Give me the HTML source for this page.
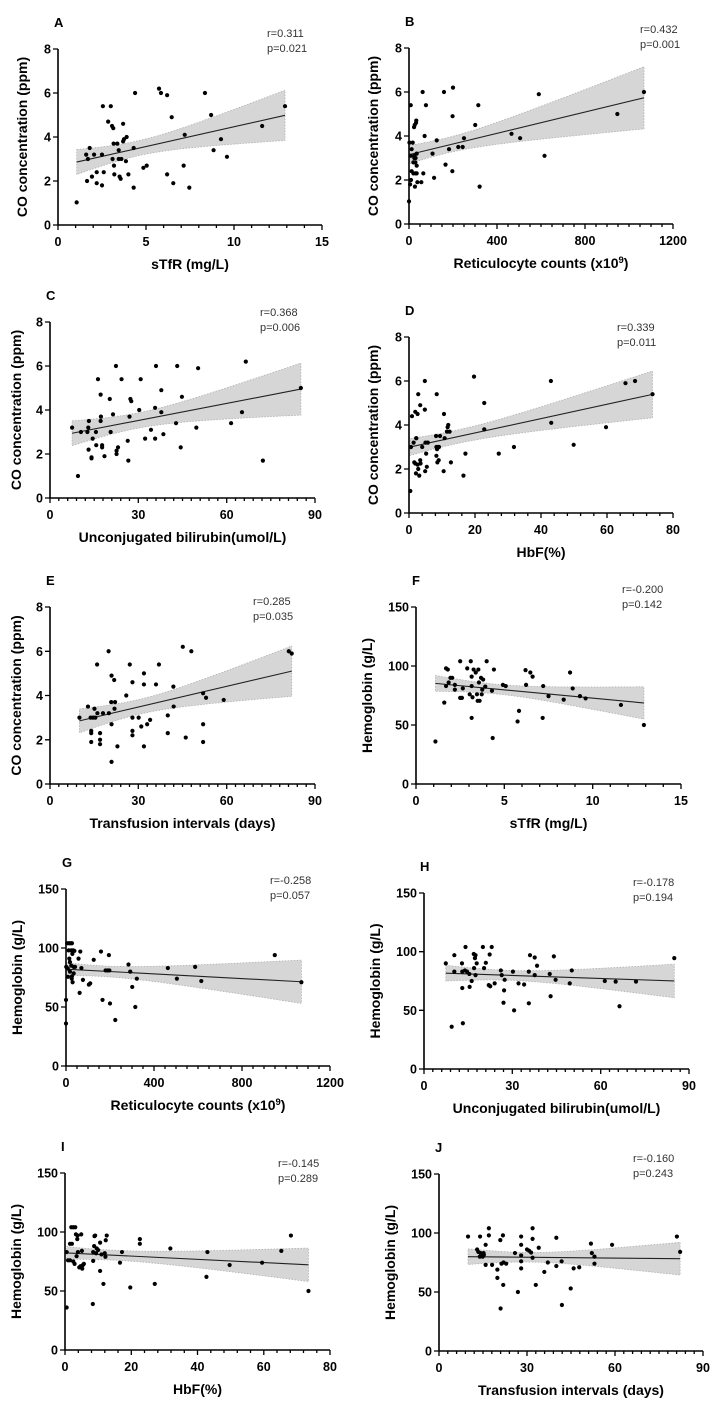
<!DOCTYPE html>
<html><head><meta charset="utf-8"><style>
html,body{margin:0;padding:0;background:#fff;}
svg{display:block;font-family:"Liberation Sans",Arial,sans-serif;}
</style></head><body>
<svg id="fig" width="719" height="1413" viewBox="0 0 719 1413" xmlns="http://www.w3.org/2000/svg"></svg>
<script>
const aX=[1.06,1.6,1.7,1.8,1.65,1.93,2.05,2.2,2.2,2.5,2.5,2.6,2.55,3.0,2.85,3.07,3.14,3.1,3.16,3.18,3.2,3.37,3.45,3.45,3.5,3.56,3.6,3.7,3.7,3.75,3.9,3.86,4.0,4.3,4.3,4.38,4.85,5.04,5.74,5.85,6.2,6.2,6.46,6.55,7.14,7.2,7.46,8.35,8.7,8.84,9.26,9.6,11.6,12.9];
const aY=[1.03,3.2,3.0,3.5,2.0,2.2,3.2,2.4,1.9,3.2,1.8,2.4,5.4,5.4,4.7,4.5,4.4,3.0,3.7,2.7,2.3,3.7,3.4,3.0,2.2,2.1,3.0,4.6,3.8,3.9,4.0,2.9,2.3,3.5,1.7,6.0,2.6,2.7,6.2,6.0,5.9,2.3,4.9,1.9,2.7,4.1,1.7,6.0,5.0,3.4,3.9,3.1,4.5,5.4];
const bX=[0,5,9,8,2,8,12,17,12,20,24,29,20,24,35,30,23,26,32,33,27,30,35,35,38,56,62,65,71,77,107,114,126,159,166,182,197,200,198,224,244,250,301,315,321,466,505,590,616,947,1068];
const bY=[1.03,1.8,2.0,5.4,3.7,3.1,3.4,3.7,2.4,2.3,3.0,2.8,2.8,3.1,3.2,3.0,4.4,4.5,4.6,4.7,1.7,2.3,2.65,2.3,1.9,1.9,6.0,2.3,4.0,5.4,3.2,2.1,3.8,6.0,2.7,3.4,2.4,6.2,4.9,3.5,3.5,3.9,4.5,5.4,1.7,4.1,3.9,5.9,3.1,5.0,6.0];
const cX=[7.5,9.5,10.5,12.7,13,13.2,13.1,14.1,14.1,14.5,15.6,15.7,16.3,17.2,17.2,17.3,17.7,17.7,18.5,20.3,20.6,21.4,22.4,22.6,22.6,23.1,24.3,26.4,26.6,27,27.3,27.6,30.3,30.8,32.3,34.3,35.7,35.7,36,37.8,37.8,38.5,42.8,43.2,44.4,44.8,49.7,50.3,61.5,65.2,66.5,72.3,85.2];
const cY=[3.2,1.0,3.0,3.0,3.2,3.5,2.2,1.85,1.8,2.7,3.0,2.4,5.4,4.7,3.5,3.7,2.4,2.3,1.9,4.5,3.0,3.8,6.0,2.15,2.0,2.3,5.4,2.6,1.7,3.7,4.5,4.4,4.0,5.4,2.7,3.1,4.1,2.7,6.0,4.9,3.9,2.9,3.4,6.0,2.3,4.6,3.2,5.9,3.4,3.9,6.2,1.7,5.0];
const dX=[0.4,0.6,0.9,1.4,1.6,1.9,2.1,2.2,1.9,2.2,2.8,2.6,2.6,2.8,3.1,3.4,3.4,3.5,4.0,4.8,4.8,4.9,5.0,5.2,5.4,5.7,8.4,8.2,8.3,8.3,8.5,8.8,8.6,9.0,9.1,9.4,10.6,10.5,10.8,11.5,11.7,11.9,12.3,12.7,16.5,17.1,19.7,22.8,22.8,27.2,31.8,43.0,43.1,49.9,59.7,65.6,68.5,73.8];
const dY=[1.0,3.0,4.4,3.2,2.3,2.25,1.8,3.4,4.6,3.4,5.4,4.5,2.2,2.0,1.7,4.9,2.4,2.25,3.0,4.7,6.0,1.9,3.2,2.7,2.1,3.2,5.4,3.5,3.0,2.6,2.9,3.0,2.3,2.4,3.0,3.5,4.5,1.9,3.4,3.7,3.9,4.0,3.7,2.3,1.7,2.7,6.2,5.0,3.8,2.7,3.0,6.0,4.1,3.1,3.9,5.9,6.0,5.4];
const eX=[10,12.9,13.8,14,14,14,14.6,15.1,15.4,16,16.1,17,17,17,18,19.9,20,20.8,20.9,20.9,20.9,21.8,22.1,21.9,22.9,25.9,27.1,28,28,28,28,30.1,31,31.9,31.9,31.9,33,34,36,37,40,40,41.9,42,45.1,46.1,48,52,52,52,53,59,81.1,82.1];
const eY=[3.0,3.5,3.0,2.4,2.3,1.9,3.0,3.4,3.0,5.4,3.2,2.3,2.0,1.8,3.2,6.0,3.2,3.7,4.9,2.7,1.0,4.7,3.7,3.4,1.7,4.0,5.4,4.6,3.0,2.4,2.2,3.0,2.6,5.0,4.5,1.7,2.7,2.9,4.5,5.4,3.1,2.3,4.4,3.5,6.2,2.1,6.0,4.1,2.7,1.9,3.9,3.8,6.0,5.9];
const fX=[1.1,1.6,1.7,1.8,1.7,1.85,1.95,2.05,2.2,2.2,2.5,2.5,2.6,2.65,2.9,3.1,3.15,3.15,3.15,3.04,3.2,3.26,3.38,3.45,3.49,3.53,3.6,3.56,3.68,3.72,3.75,3.8,3.92,4.0,4.3,4.34,4.41,4.92,5.08,5.75,5.83,6.2,6.23,6.47,6.6,7.17,7.2,7.5,8.36,8.72,8.87,9.28,9.6,11.6,12.9];
const fY=[36,69,98,97,83,86,90,90,84,80,104,73,73,81,98,104,91,83,56,76,73.5,97,94.5,76,70.5,97,70.5,86,90,76,80,88.5,82.5,104,79,39,97,84,83,53,62,96.5,84,94.5,91,56,83,74.5,71.5,94.5,81,74.5,72.5,67,50];
const gX=[0,0,1,5,8,9,12,14,15,18,18,21,24,24,26,27,27,29,30,32,35,35,38,41,57,62,65,70,77,104,110,126,159,166,180,189,197,195,200,224,284,292,301,315,322,463,504,587,615,949,1070];
const gY=[56,36,84,104,82.6,75.6,98,104,91,80,88,104,98,85,74,76,104,95,71,98,78.5,84,97.6,84,91,62,97,83,73,69,70,90,97,56,81,81,81,94,53,39,86,80,67,50,74,83,74,84,72,94,71];
const hX=[7.4,9.4,10.3,10.3,12.9,13,13,13.2,13.9,14.1,14.6,15.4,15.5,16.2,16.9,17,17.3,17.5,17.5,17.9,20,20.4,21,22,22.3,22.5,23,24,26.1,26.4,27,27.2,27.4,30.2,30.6,32.1,34,35.6,35.6,36,37.6,37.6,38.4,42.7,43,44.1,44.7,49.5,50.2,61.4,65.1,66.4,72,85];
const hY=[90,36,97,83,90,83,69,39,84,104,83,81,70,75,98,86,94.5,97,80,90,104,86,90.5,71.5,97.6,70.5,104,73,84,80,56.5,67,76,83,50,73,72,83,56,97,95,80,88,81,62,96,76,73,84,75,74.5,53.5,74.5,94.5];
const iX=[0.5,0.5,0.9,1.5,1.5,2.1,1.9,2.5,3.1,2.5,2.9,3.3,3.5,3.7,3.8,3.9,4.3,4.7,4.9,5.1,5.2,5.4,5.7,8.4,8.5,8.5,8.8,8.9,9.1,9.4,9.6,10,10.6,10.6,11,11.6,12,12.2,12.3,12.6,16.6,17.2,19.7,22.6,22.6,27.1,31.8,42.7,43,49.7,59.5,65.3,68.2,73.5];
const iY=[36,83,76,76,90,90,104,104,104,75,73,98,79.5,94,97,83,70,71,98,84,69,72,73,39,75.5,83,88,96.5,97,82,86,84.7,67,91,81,56,82,79,93,97,74,83,53,94,90,56,86,62,83,72,74,84,97,50];
const jX=[9.9,13,14,13.4,13.9,14.2,14.5,14.9,15.2,15.3,15.9,15.9,17,17,18.1,19.9,19.9,20.9,21,21.3,21.8,21.9,22,22.9,25.9,26.9,28,28,28,28,28,30,30.7,31.4,31.9,31.9,31.9,33,34,35.9,37.1,40,40,41.8,41.9,44.9,45.9,47.8,51.8,52.1,53,53,59,81.1,82.2];
const jY=[97,86,97,84,80,83,81.5,80,83,81.5,90,73,104,98,73,69,62,94,36,74,98,56,75,74,83,50,97,90,81,76,70,86,85,83.5,104,95,79,56,87.5,67,75,96,72,76,39,53,70,71,91,83,80,74,90,97,84];

const coTicks=[0,2,4,6,8];
const hbTicks=[0,50,100,150];
const xt15=[0,5,10,15], xt1200=[0,400,800,1200], xt90=[0,30,60,90], xt80=[0,20,40,60,80];

const NS="http://www.w3.org/2000/svg";
const svg=document.getElementById('fig');
function mk(tag,attrs,parent){const e=document.createElementNS(NS,tag);for(const k in attrs)e.setAttribute(k,attrs[k]);(parent||svg).appendChild(e);return e;}

function panel(cfg){
  const g=mk('g',{});
  
  
  const {ox,top,w,h,xmax,ymax,minor,xs,ys,xticks,yticks}=cfg;
  const bot=top+h;
  const sx=v=>ox+v/xmax*w;
  const sy=v=>bot-v/ymax*h;
  const n=xs.length;let mx=0,my=0;for(let i=0;i<n;i++){mx+=xs[i];my+=ys[i];}mx/=n;my/=n;
  let sxx=0,sxy=0;for(let i=0;i<n;i++){sxx+=(xs[i]-mx)**2;sxy+=(xs[i]-mx)*(ys[i]-my);}
  const b=sxy/sxx,a=my-b*mx;let sse=0;for(let i=0;i<n;i++)sse+=(ys[i]-a-b*xs[i])**2;
  const s=Math.sqrt(sse/(n-2)),t=2.007;
  const x0=Math.min(...xs),x1=Math.max(...xs);
  const up=[],lo=[];
  for(let k=0;k<=40;k++){const x=x0+(x1-x0)*k/40;const yh=a+b*x;const se=t*s*Math.sqrt(1/n+(x-mx)**2/sxx);
    up.push(sx(x).toFixed(1)+','+sy(yh+se).toFixed(1));lo.unshift(sx(x).toFixed(1)+','+sy(yh-se).toFixed(1));}
  const band=mk('polygon',{points:up.concat(lo).join(' '),fill:'#d6d6d6',stroke:'#b0b0b0','stroke-width':'0.8','stroke-dasharray':'1.5,1.5'},g);
  
  
  const ln=mk('line',{x1:sx(x0),y1:sy(a+b*x0),x2:sx(x1),y2:sy(a+b*x1),stroke:'#222','stroke-width':'1.1'},g);
  
  
  for(let i=0;i<n;i++){const c=mk('circle',{cx:sx(xs[i]),cy:sy(ys[i]),r:2.1,fill:'#000'},g);
    
    }
  const ax=mk('path',{d:`M${ox},${top} V${bot} H${ox+w}`,stroke:'#000','stroke-width':'1.6',fill:'none'},g);
  
  
  let d='';
  for(let v=0;v<=xmax+1e-9;v+=minor){const X=sx(v).toFixed(1);const major=xticks.some(tv=>Math.abs(tv-v)<1e-6);d+=`M${X},${bot} v${major?5:3} `;}
  yticks.forEach(v=>{d+=`M${ox},${sy(v).toFixed(1)} h-5 `;});
  mk('path',{d:d,stroke:'#000','stroke-width':'1.3',fill:'none'},g);
  xticks.forEach(v=>{const tx=mk('text',{x:sx(v),y:bot+21,'text-anchor':'middle','font-size':'12.5','font-weight':'bold'},g);tx.textContent=v;
    
    });
  yticks.forEach(v=>{const tx=mk('text',{x:ox-7,y:sy(v)+4.5,'text-anchor':'end','font-size':'12.5','font-weight':'bold'},g);tx.textContent=v;
    
    });
  const xt=mk('text',{x:ox+w/2,y:bot+44,'text-anchor':'middle','font-size':'14','font-weight':'bold'},g);
  
  
  if(cfg.sup){xt.appendChild(document.createTextNode(cfg.xtitle));const ts=mk('tspan',{'font-size':'9.5','dy':'-5'},xt);ts.textContent='9';const t2=mk('tspan',{'dy':'5'},xt);t2.textContent=')';}
  else xt.textContent=cfg.xtitle;
  const yx=ox-cfg.ytOff,yy=top+h/2;
  const yt=mk('text',{x:yx,y:yy,'text-anchor':'middle','font-size':'14','font-weight':'bold',transform:`rotate(-90 ${yx} ${yy})`},g);
  yt.textContent=cfg.ytitle;
  
  
  const lt=mk('text',{x:ox-4,y:top-22,'font-size':'13','font-weight':'bold'},g);lt.textContent=cfg.letter;
  
  
  const r=mk('text',{x:cfg.rx,y:cfg.ry,'font-size':'11',fill:'#333'},g);r.textContent=cfg.r;
  
  
  const p=mk('text',{x:cfg.rx,y:cfg.ry+15,'font-size':'11',fill:'#333'},g);p.textContent=cfg.p;
  
  
}
const CO='CO concentration (ppm)',HB='Hemoglobin (g/L)';
panel({letter:'A',ox:58,top:49,w:264,h:176,xmax:15,minor:1,xticks:xt15,ymax:8,yticks:coTicks,xs:aX,ys:aY,xtitle:'sTfR (mg/L)',ytitle:CO,ytOff:31,rx:267,ry:37,r:'r=0.311',p:'p=0.021'});
panel({letter:'B',ox:409,top:48,w:264,h:176,xmax:1200,minor:50,xticks:xt1200,ymax:8,yticks:coTicks,xs:bX,ys:bY,xtitle:'Reticulocyte counts (x10',sup:true,ytitle:CO,ytOff:31,rx:640,ry:33,r:'r=0.432',p:'p=0.001'});
panel({letter:'C',ox:50,top:322,w:265,h:176,xmax:90,minor:3,xticks:xt90,ymax:8,yticks:coTicks,xs:cX,ys:cY,xtitle:'Unconjugated bilirubin(umol/L)',ytitle:CO,ytOff:29,rx:260,ry:316,r:'r=0.368',p:'p=0.006'});
panel({letter:'D',ox:409,top:337,w:264,h:176,xmax:80,minor:4,xticks:xt80,ymax:8,yticks:coTicks,xs:dX,ys:dY,xtitle:'HbF(%)',ytitle:CO,ytOff:31,rx:617,ry:331,r:'r=0.339',p:'p=0.011'});
panel({letter:'E',ox:50,top:607,w:265,h:177,xmax:90,minor:3,xticks:xt90,ymax:8,yticks:coTicks,xs:eX,ys:eY,xtitle:'Transfusion intervals (days)',ytitle:CO,ytOff:29,rx:253,ry:605,r:'r=0.285',p:'p=0.035'});
panel({letter:'F',ox:416,top:607,w:265,h:177,xmax:15,minor:1,xticks:xt15,ymax:150,yticks:hbTicks,xs:fX,ys:fY,xtitle:'sTfR (mg/L)',ytitle:HB,ytOff:44,rx:622,ry:593,r:'r=-0.200',p:'p=0.142'});
panel({letter:'G',ox:66,top:889,w:264,h:177,xmax:1200,minor:50,xticks:xt1200,ymax:150,yticks:hbTicks,xs:gX,ys:gY,xtitle:'Reticulocyte counts (x10',sup:true,ytitle:HB,ytOff:44,rx:270,ry:884,r:'r=-0.258',p:'p=0.057'});
panel({letter:'H',ox:424,top:893,w:265,h:176,xmax:90,minor:3,xticks:xt90,ymax:150,yticks:hbTicks,xs:hX,ys:hY,xtitle:'Unconjugated bilirubin(umol/L)',ytitle:HB,ytOff:44,rx:633,ry:886,r:'r=-0.178',p:'p=0.194'});
panel({letter:'I',ox:65,top:1173,w:265,h:177,xmax:80,minor:4,xticks:xt80,ymax:150,yticks:hbTicks,xs:iX,ys:iY,xtitle:'HbF(%)',ytitle:HB,ytOff:44,rx:278,ry:1167,r:'r=-0.145',p:'p=0.289'});
panel({letter:'J',ox:439,top:1174,w:264,h:177,xmax:90,minor:3,xticks:xt90,ymax:150,yticks:hbTicks,xs:jX,ys:jY,xtitle:'Transfusion intervals (days)',ytitle:HB,ytOff:44,rx:633,ry:1162,r:'r=-0.160',p:'p=0.243'});
</script>
</body></html>
